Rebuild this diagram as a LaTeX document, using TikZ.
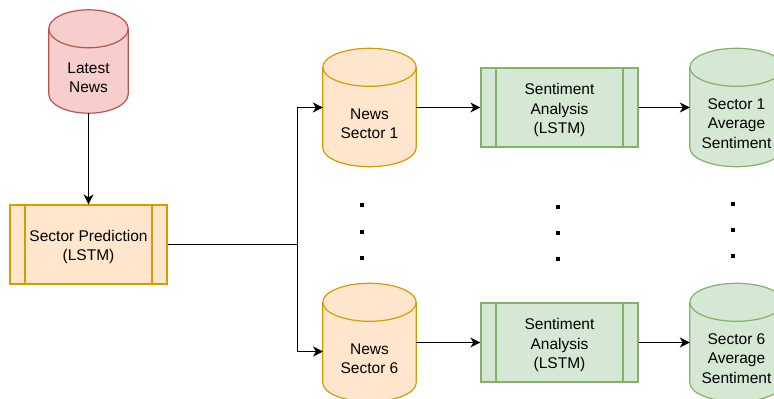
\documentclass[tikz,border=0pt]{standalone}
\usepackage{fontspec}
\setmainfont{Liberation Sans}
\usetikzlibrary{arrows.meta,calc,backgrounds}

\definecolor{redF}{HTML}{F8CECC}
\definecolor{redD}{HTML}{B85450}
\definecolor{orF}{HTML}{FFE6CC}
\definecolor{orD}{HTML}{D79B00}
\definecolor{grF}{HTML}{D5E8D4}
\definecolor{grD}{HTML}{82B366}

% cylinder outline drawn from the anchors of an invisible node
\newcommand\drawdrum[4]{% node, ellipse half-height, fill, stroke
  \path[fill=#3,draw=#4,line width=1.2pt] let \p1=(#1.north west), \p2=(#1.south east), \n1={(\x2-\x1)/2} in
    (\x1,\y1-#2) -- (\x1,\y2+#2)
    arc[start angle=180,end angle=360,x radius=\n1,y radius=#2]
    -- (\x2,\y1-#2)
    arc[start angle=0,end angle=180,x radius=\n1,y radius=#2] -- cycle;
  \path[draw=#4,line width=1.2pt] let \p1=(#1.north west), \p2=(#1.south east), \n1={(\x2-\x1)/2} in
    (\x1,\y1-#2) arc[start angle=180,end angle=360,x radius=\n1,y radius=#2];
}

\tikzset{
  txt/.style={font=\fontsize{15.5}{19.5}\selectfont, align=center},
  drum/.style n args={3}{rectangle, inner sep=0pt, minimum width=#1, minimum height=#2,
    label={[txt, yshift=-16pt]center:#3}},
  proc/.style n args={3}{rectangle, fill=#1, draw=#2, line width=1.2pt,
    minimum width=157pt, minimum height=79pt, inner sep=0pt,
    label={[txt, yshift=-2.5pt]center:#3},
    path picture={
      \draw[draw=#2,line width=1.2pt]
        ([xshift=15pt]path picture bounding box.north west) -- ([xshift=15pt]path picture bounding box.south west)
        ([xshift=-15pt]path picture bounding box.north east) -- ([xshift=-15pt]path picture bounding box.south east);
    }},
  link/.style={line width=1.3pt, -{Stealth[length=10pt,width=10pt,inset=3pt]}},
  wire/.style={line width=1.3pt},
}

\begin{document}
\begin{tikzpicture}[x=1pt,y=1pt]
\useasboundingbox (0,0) rectangle (774,399);
\clip (0,0) rectangle (774,399);

% data stores
\node[drum={79pt}{103pt}{Latest\\News}] (ln) at (88.5,337.5) {};
\node[drum={93pt}{118pt}{News\\Sector 1}] (ns1) at (369.5,291.5) {};
\node[drum={93pt}{118pt}{News\\Sector 6}] (ns6) at (369.5,56.5) {};
\node[drum={93pt}{118pt}{Sector 1\\Average\\Sentiment}] (as1) at (736.5,291.5) {};
\node[drum={93pt}{118pt}{Sector 6\\Average\\Sentiment}] (as6) at (736.5,56.5) {};

\begin{pgfonlayer}{background}
  \drawdrum{ln}{19pt}{redF}{redD}
  \drawdrum{ns1}{19pt}{orF}{orD}
  \drawdrum{ns6}{19pt}{orF}{orD}
  \drawdrum{as1}{19pt}{grF}{grD}
  \drawdrum{as6}{19pt}{grF}{grD}
\end{pgfonlayer}

% processes
\node[proc={orF}{orD}{Sector Prediction\\(LSTM)}] (sp) at (88.5,154.5) {};
\node[proc={grF}{grD}{Sentiment\\Analysis\\(LSTM)}] (sa1) at (559.5,291.5) {};
\node[proc={grF}{grD}{Sentiment\\Analysis\\(LSTM)}] (sa6) at (559.5,56.5) {};

% connectors
\coordinate (fork) at (297.5,154.5);
\coordinate (in6) at (323,47.5);
\draw[link] (ln.south) -- (sp.north);
\draw[wire] (sp.east) -- (fork);
\draw[link] (fork) |- (ns1.west);
\draw[link] (fork) |- (in6);
\draw[link] (ns1.east) -- (sa1.west);
\draw[link] (sa1.east) -- (as1.west);
\draw[link] (ns6.east) -- (sa6.west);
\draw[link] (sa6.east) -- (as6.west);

% ellipsis dots between the sector rows
\foreach \x/\a/\b/\c in {362/205/232/258, 558/207/233/259, 733/204/230/256}{
  \foreach \y in {\a,\b,\c}{
    \fill (\x-2,399-\y-2) rectangle (\x+2,399-\y+2);
  }
}
\end{tikzpicture}
\end{document}
